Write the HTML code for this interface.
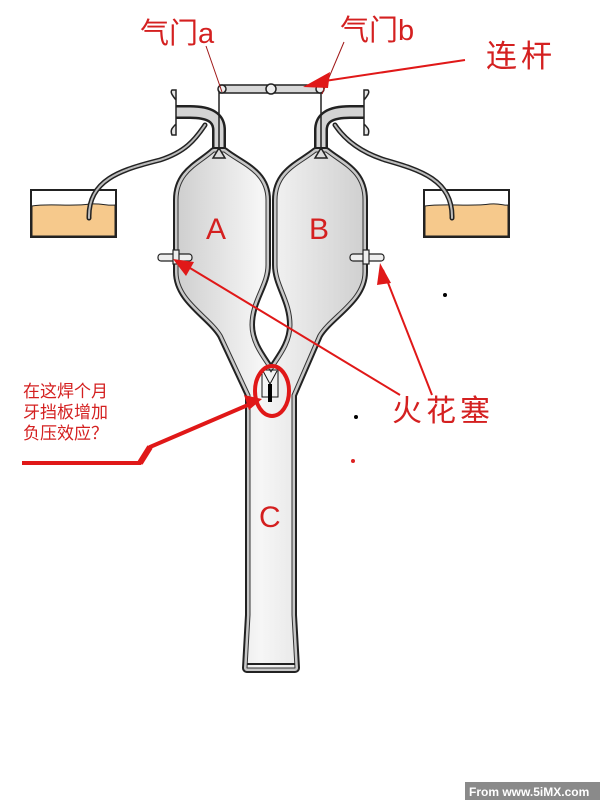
<!DOCTYPE html>
<html><head><meta charset="utf-8"><style>
html,body{margin:0;padding:0;background:#fff;}
svg{display:block;}
.cn{font-family:"Liberation Sans","Noto Sans CJK SC",sans-serif;fill:#d42020;}
</style></head><body>
<svg width="600" height="800" viewBox="0 0 600 800" xmlns="http://www.w3.org/2000/svg">
<defs>
<linearGradient id="g" x1="0" x2="1" y1="0" y2="0">
<stop offset="0" stop-color="#cfcfcf"/><stop offset="0.45" stop-color="#f6f6f6"/><stop offset="1" stop-color="#d0d0d0"/>
</linearGradient>
</defs>
<!-- beakers -->
<g stroke="#222" stroke-width="2">
<rect x="31" y="190" width="85" height="47" fill="#fff"/>
<path d="M32,206 C50,203 70,207 90,204 C100,203 108,206 115,205 L115,236 L32,236 Z" fill="#f6c98c" stroke-width="1"/>
<rect x="424" y="190" width="85" height="47" fill="none"/>
<path d="M425,206 C445,203 470,207 490,204 C500,203 505,206 508,205 L508,236 L425,236 Z" fill="#f6c98c" stroke-width="1"/>
</g>
<!-- fuel lines -->
<g fill="none" stroke-linecap="round">
<path d="M89,218 C88,180 120,170 160,160 C185,152 195,140 205,125" stroke="#222" stroke-width="5"/>
<path d="M89,218 C88,180 120,170 160,160 C185,152 195,140 205,125" stroke="#bbb" stroke-width="2"/>
<path d="M452,218 C453,180 420,170 385,160 C360,152 345,140 335,125" stroke="#222" stroke-width="5"/>
<path d="M452,218 C453,180 420,170 385,160 C360,152 345,140 335,125" stroke="#bbb" stroke-width="2"/>
</g>
<!-- intake pipes -->
<g fill="none">
<path d="M219,155 L219,130 C219,118 210,112 190,112 L176,112" stroke="#222" stroke-width="14"/>
<path d="M219,155 L219,130 C219,118 210,112 190,112 L176,112" stroke="#d4d4d4" stroke-width="9"/>
<path d="M321,155 L321,130 C321,118 330,112 350,112 L364,112" stroke="#222" stroke-width="14"/>
<path d="M321,155 L321,130 C321,118 330,112 350,112 L364,112" stroke="#d4d4d4" stroke-width="9"/>
</g>
<path d="M176,100 C172,95 170,92 172,90 L176,90 L176,135 L172,135 C170,130 172,128 176,124 Z" fill="#e6e6e6" stroke="#222" stroke-width="1.5"/>
<path d="M364,100 C368,95 370,92 368,90 L364,90 L364,135 L368,135 C370,130 368,128 364,124 Z" fill="#e6e6e6" stroke="#222" stroke-width="1.5"/>
<!-- main body -->
<path id="body" d="M214,152 C200,165 178,172 178,200 L178,272 C178,300 210,315 222,335 L250,395 L250,615 L247,668 L295,668 L292,615 L292,395 L318,335 C330,315 363,300 363,272 L363,200 C363,172 342,165 326,152 L316,152 C300,165 277,172 277,200 L277,265 C277,285 292,300 292,325 C292,345 278,360 271,372 C264,360 250,345 250,325 C250,300 266,285 266,265 L266,200 C266,172 240,165 224,152 Z" fill="none" stroke="#222" stroke-width="10" stroke-linejoin="round"/>
<path d="M214,152 C200,165 178,172 178,200 L178,272 C178,300 210,315 222,335 L250,395 L250,615 L247,668 L295,668 L292,615 L292,395 L318,335 C330,315 363,300 363,272 L363,200 C363,172 342,165 326,152 L316,152 C300,165 277,172 277,200 L277,265 C277,285 292,300 292,325 C292,345 278,360 271,372 C264,360 250,345 250,325 C250,300 266,285 266,265 L266,200 C266,172 240,165 224,152 Z" fill="url(#g)" stroke="#c8c8c8" stroke-width="6" stroke-linejoin="round"/>
<path d="M214,152 C200,165 178,172 178,200 L178,272 C178,300 210,315 222,335 L250,395 L250,615 L247,668 L295,668 L292,615 L292,395 L318,335 C330,315 363,300 363,272 L363,200 C363,172 342,165 326,152 L316,152 C300,165 277,172 277,200 L277,265 C277,285 292,300 292,325 C292,345 278,360 271,372 C264,360 250,345 250,325 C250,300 266,285 266,265 L266,200 C266,172 240,165 224,152 Z" fill="url(#g)" stroke="#333" stroke-width="1" stroke-linejoin="round"/>
<line x1="247" y1="664" x2="295" y2="664" stroke="#222" stroke-width="2"/>
<!-- valves -->
<g stroke="#222" stroke-width="1.5" fill="#ddd">
<path d="M213,158 L219,148 L225,158 Z"/>
<path d="M315,158 L321,148 L327,158 Z"/>
<line x1="219" y1="90" x2="219" y2="150"/>
<line x1="321" y1="90" x2="321" y2="150"/>
<rect x="220" y="85" width="102" height="8" fill="#d8d8d8"/>
<circle cx="222" cy="89" r="4" fill="#eee"/>
<circle cx="320" cy="89" r="4" fill="#eee"/>
<circle cx="271" cy="89" r="5" fill="#eee"/>
</g>
<!-- spark plugs -->
<g stroke="#222" stroke-width="1.2" fill="#eee">
<rect x="158" y="254" width="34" height="7" rx="3"/>
<rect x="173" y="250" width="6" height="14"/>
<rect x="350" y="254" width="34" height="7" rx="3"/>
<rect x="363" y="250" width="6" height="14"/>
</g>
<!-- baffle -->
<rect x="262" y="370" width="16" height="27" fill="none" stroke="#111" stroke-width="1"/>
<path d="M263,371 L270,384 L277,371" fill="none" stroke="#111" stroke-width="1"/>
<line x1="270" y1="384" x2="270" y2="402" stroke="#000" stroke-width="4"/>
<!-- red annotations -->
<g stroke="#e01818" fill="none">
<ellipse cx="272" cy="391" rx="17" ry="25" stroke-width="4"/>
<line x1="206" y1="46" x2="222" y2="92" stroke-width="1" stroke="#a01818"/>
<line x1="344" y1="42" x2="322" y2="94" stroke-width="1" stroke="#a01818"/>
<line x1="465" y1="60" x2="318" y2="82" stroke-width="2"/>
<line x1="400" y1="395" x2="185" y2="265" stroke-width="2"/>
<line x1="432" y1="395" x2="383" y2="270" stroke-width="2"/>
<path d="M22,463 L140,463 L150,447 L255,402" stroke-width="4"/>
<path d="M140,463 L150,447" stroke-width="6"/>
</g>
<g fill="#e01818">
<path d="M303,87 L330,72 L328,88 Z"/>
<path d="M173,259 L194,262 L186,276 Z"/>
<path d="M380,263 L391,283 L377,285 Z"/>
<path d="M262,399 L244,395 L249,410 Z"/>
</g>
<text class="cn" x="140" y="43" font-size="29">气门a</text>
<text class="cn" x="340" y="40" font-size="29">气门b</text>
<text class="cn" x="486" y="67" font-size="31" letter-spacing="4">连杆</text>
<text class="cn" x="392" y="421" font-size="30" letter-spacing="4">火花塞</text>
<text class="cn" x="206" y="239" font-size="30">A</text>
<text class="cn" x="309" y="239" font-size="30">B</text>
<text class="cn" x="259" y="527" font-size="30">C</text>
<text class="cn" x="23" y="397" font-size="17">在这焊个月</text>
<text class="cn" x="23" y="418" font-size="17">牙挡板增加</text>
<text class="cn" x="23" y="439" font-size="17">负压效应？</text>
<circle cx="445" cy="295" r="2" fill="#000"/>
<circle cx="356" cy="417" r="2" fill="#000"/>
<circle cx="353" cy="461" r="2" fill="#d22"/>
<rect x="465" y="782" width="135" height="18" fill="#8a8a8a"/>
<text x="469" y="796" font-family="Liberation Sans,sans-serif" font-size="12" font-weight="bold" fill="#fff">From www.5iMX.com</text>
</svg>
</body></html>
